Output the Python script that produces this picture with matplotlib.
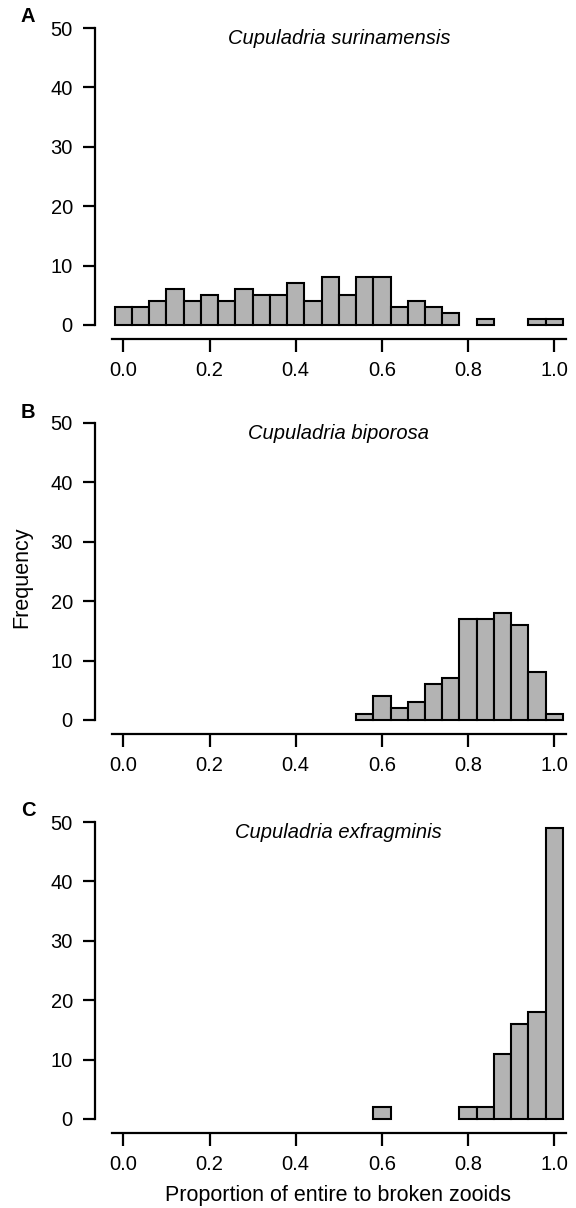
import numpy as np
import matplotlib
matplotlib.use("Agg")
import matplotlib.pyplot as plt

plt.rcParams['font.family'] = ['Liberation Sans', 'DejaVu Sans']

# bin centres (width 0.04) and counts
bins = np.round(np.arange(0, 1.0001, 0.04), 2)
surinamensis = [3, 3, 4, 6, 4, 5, 4, 6, 5, 5, 7, 4, 8, 5, 8, 8, 3, 4, 3, 2, 0, 1, 0, 0, 1, 1]
biporosa = [0] * 14 + [1, 4, 2, 3, 6, 7, 17, 17, 18, 16, 8, 1]
exfragminis = [0] * 15 + [2, 0, 0, 0, 0, 2, 2, 11, 16, 18, 49]

panels = ['A', 'B', 'C']
species = ['Cupuladria surinamensis', 'Cupuladria biporosa', 'Cupuladria exfragminis']
counts = [surinamensis, biporosa, exfragminis]
xticks = [0.0, 0.2, 0.4, 0.6, 0.8, 1.0]
yticks = [0, 10, 20, 30, 40, 50]

W, H = 576, 1208
fig = plt.figure(figsize=(W / 100, H / 100), dpi=100)

# panel tops in pixels (y of the 50 tick)
tops = [28, 423, 822]
left_px, right_px = 95, 570
fs = 14.5

for letter, name, cnt, top in zip(panels, species, counts, tops):
    bottom = top + 311
    ax = fig.add_axes([left_px / W, (H - bottom) / H,
                       (right_px - left_px) / W, 311 / H])
    cnt = np.array(cnt)
    keep = cnt > 0
    ax.bar(bins[keep], cnt[keep], width=0.04, color='#b3b3b3',
           edgecolor='black', linewidth=1.5, align='center')
    ax.set_xlim(-0.0657, 1.0364)
    ax.set_ylim(-2.36, 50)
    for s in ['top', 'right']:
        ax.spines[s].set_visible(False)
    ax.spines['left'].set_bounds(0, 50)
    ax.spines['bottom'].set_bounds(-0.026, 1.028)
    ax.spines['left'].set_linewidth(1.6)
    ax.spines['bottom'].set_linewidth(1.6)
    ax.set_xticks(xticks)
    ax.set_xticklabels([f'{t:.1f}' for t in xticks])
    ax.set_yticks(yticks)
    ax.tick_params(axis='both', length=9, width=1.6, labelsize=fs)
    ax.tick_params(axis='x', pad=7)
    ax.tick_params(axis='y', pad=7)
    ax.set_facecolor('none')
    ax.text(0.5, 48.2, name, style='italic', fontsize=fs,
            ha='center', va='center')
    fig.text(28 / W, 1 - (top - 11) / H, letter, fontsize=fs,
             fontweight='bold', ha='center', va='center')

fig.text(22 / W, 1 - 577 / H, 'Frequency', rotation=90, fontsize=fs + 1,
         ha='center', va='center')
fig.text(338 / W, 1 - 1195 / H, 'Proportion of entire to broken zooids',
         fontsize=fs + 1, ha='center', va='center')

fig.savefig('out.png', dpi=100)
